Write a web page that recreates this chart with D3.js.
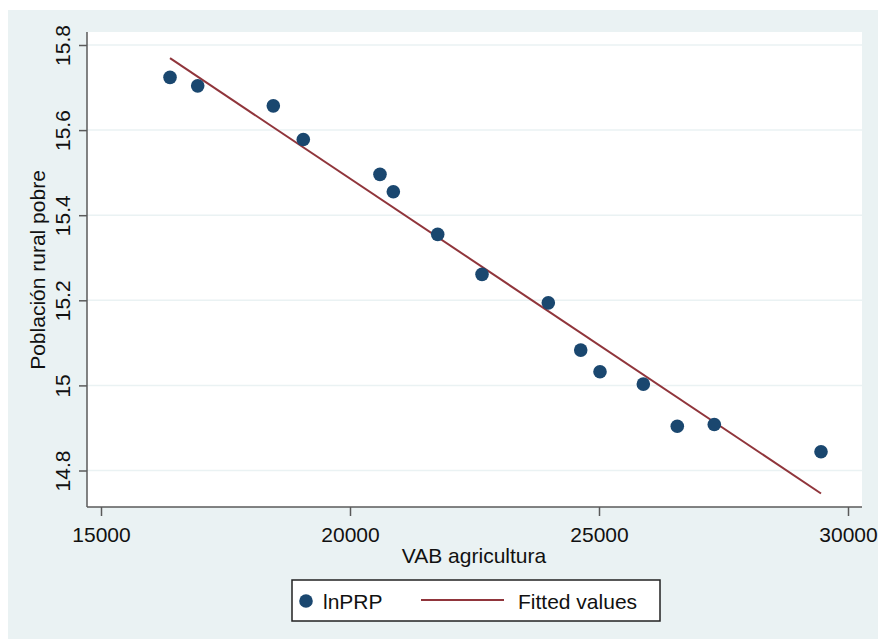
<!DOCTYPE html>
<html>
<head>
<meta charset="utf-8">
<script src="https://cdn.jsdelivr.net/npm/d3@7"></script>
<style>
  html, body { margin: 0; padding: 0; background: #ffffff; }
  svg { display: block; }
  text { font-family: "Liberation Sans", Arial, sans-serif; fill: #111; }
</style>
</head>
<body>
<script>
// ---- Data ----
const vabAgricultura = [16386, 16942, 18460, 19062, 20602, 20870, 21761, 22651, 23982, 24633, 25020, 25890, 26572, 27315, 29458];
const lnPRP          = [15.724, 15.704, 15.657, 15.578, 15.496, 15.455, 15.355, 15.261, 15.194, 15.083, 15.032, 15.003, 14.904, 14.908, 14.844];
const fittedX = [16386, 29458];
const fittedY = [15.769, 14.746];
const xTicks = [15000, 20000, 25000, 30000];
const yTicks = [14.8, 15, 15.2, 15.4, 15.6, 15.8];
const yTickLabels = ["14.8", "15", "15.2", "15.4", "15.6", "15.8"];
const legendLabels = ["lnPRP", "Fitted values"];

// ---- Layout ----
const W = 878, H = 639;
const plot = { left: 87, right: 862, top: 32, bottom: 507 };
const navy = "#1A476F", maroon = "#90353B", bg = "#EAF2F3", grid = "#EAF2F3";
const axisCol = "#5a5a5a";

const svg = d3.select("body").append("svg").attr("width", W).attr("height", H);

// outer background
svg.append("rect").attr("x", 8).attr("y", 10).attr("width", W - 8).attr("height", H - 10).attr("fill", bg);
// plot region
svg.append("rect").attr("x", plot.left).attr("y", plot.top)
  .attr("width", plot.right - plot.left).attr("height", plot.bottom - plot.top).attr("fill", "#fff");

const x = d3.scaleLinear().domain([15000, 30000]).range([101, 848]);
const y = d3.scaleLinear().domain([14.8, 15.8]).range([470.5, 45]);

// gridlines
svg.append("g").selectAll("line").data(yTicks).join("line")
  .attr("x1", plot.left).attr("x2", plot.right)
  .attr("y1", d => y(d)).attr("y2", d => y(d))
  .attr("stroke", grid).attr("stroke-width", 1.5);

// Y axis
const yAxis = d3.axisLeft(y).tickValues(yTicks).tickSize(8).tickPadding(9)
  .tickFormat((d, i) => yTickLabels[i]);
const gy = svg.append("g").attr("transform", `translate(${plot.left},0)`).call(yAxis);
gy.select(".domain").remove();
gy.selectAll(".tick line").attr("stroke", axisCol).attr("stroke-width", 1.5);
gy.selectAll(".tick text")
  .attr("font-size", 21).attr("fill", "#111")
  .attr("text-anchor", "middle")
  .attr("x", null).attr("dy", null)
  .attr("transform", "translate(-17,0) rotate(-90)");
svg.append("line").attr("x1", plot.left).attr("x2", plot.left)
  .attr("y1", plot.top).attr("y2", plot.bottom).attr("stroke", axisCol).attr("stroke-width", 1.5);

// X axis
const xAxis = d3.axisBottom(x).tickValues(xTicks).tickSize(9).tickPadding(9).tickFormat(d3.format("d"));
const gx = svg.append("g").attr("transform", `translate(0,${plot.bottom})`).call(xAxis);
gx.select(".domain").remove();
gx.selectAll(".tick line").attr("stroke", axisCol).attr("stroke-width", 1.5);
gx.selectAll(".tick text").attr("font-size", 21).attr("fill", "#111").attr("dy", null).attr("y", 35);
svg.append("line").attr("x1", plot.left).attr("x2", plot.right)
  .attr("y1", plot.bottom).attr("y2", plot.bottom).attr("stroke", axisCol).attr("stroke-width", 1.5);

// fitted line
const pts = fittedX.map((d, i) => [d, fittedY[i]]);
svg.append("path").datum(pts)
  .attr("d", d3.line().x(d => x(d[0])).y(d => y(d[1])))
  .attr("fill", "none").attr("stroke", maroon).attr("stroke-width", 2);

// points
svg.append("g").selectAll("circle").data(vabAgricultura).join("circle")
  .attr("cx", d => x(d)).attr("cy", (d, i) => y(lnPRP[i]))
  .attr("r", 6.8).attr("fill", navy);

// axis titles
svg.append("text").attr("x", 474).attr("y", 563).attr("text-anchor", "middle")
  .attr("font-size", 21).text("VAB agricultura");
svg.append("text").attr("transform", "translate(45,270) rotate(-90)").attr("text-anchor", "middle")
  .attr("font-size", 21).text("Población rural pobre");

// legend
const lg = svg.append("g");
lg.append("rect").attr("x", 292).attr("y", 580).attr("width", 368).attr("height", 41)
  .attr("fill", "#fff").attr("stroke", "#222").attr("stroke-width", 1.5);
lg.append("circle").attr("cx", 306).attr("cy", 601).attr("r", 6.8).attr("fill", navy);
lg.append("text").attr("x", 323).attr("y", 609).attr("font-size", 21).text(legendLabels[0]);
lg.append("line").attr("x1", 421).attr("x2", 504).attr("y1", 600).attr("y2", 600)
  .attr("stroke", maroon).attr("stroke-width", 2);
lg.append("text").attr("x", 518).attr("y", 609).attr("font-size", 21).text(legendLabels[1]);
</script>
</body>
</html>
